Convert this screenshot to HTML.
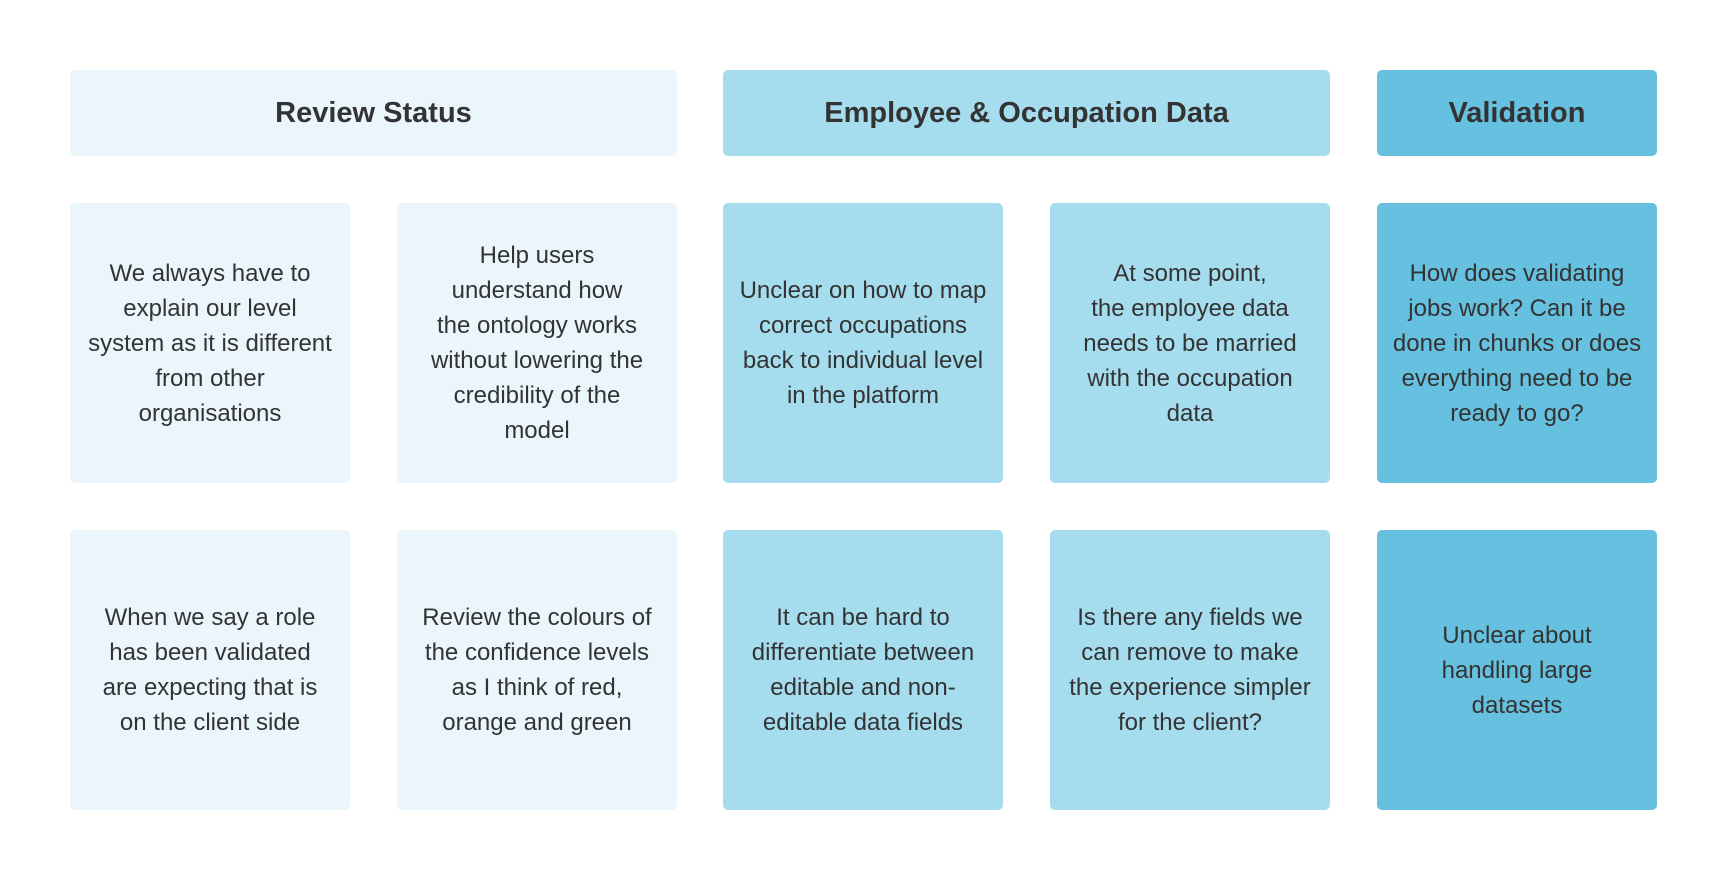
<!DOCTYPE html>
<html><head><meta charset="utf-8"><style>
html,body{margin:0;padding:0;background:#fff;}
body{width:1726px;height:878px;position:relative;overflow:hidden;font-family:"Liberation Sans",sans-serif;color:#333;}
.b{position:absolute;border-radius:5px;display:flex;align-items:center;justify-content:center;text-align:center;}
.h{top:70px;height:86px;font-weight:bold;font-size:29px;}
.c{width:280px;height:280px;font-size:24px;line-height:35px;white-space:nowrap;}
.l{background:#EAF6FB}.m{background:#A6DDEE}.d{background:#66C0DF}
.r1{top:203px}.r2{top:530px}
</style></head><body>
<div class="b h l" style="left:70px;width:607px">Review Status</div>
<div class="b h m" style="left:723px;width:607px">Employee &amp; Occupation Data</div>
<div class="b h d" style="left:1377px;width:280px">Validation</div>

<div class="b c l r1" style="left:70px">We always have to<br>explain our level<br>system as it is different<br>from other<br>organisations</div>
<div class="b c l r1" style="left:397px">Help users<br>understand how<br>the ontology works<br>without lowering the<br>credibility of the<br>model</div>
<div class="b c m r1" style="left:723px">Unclear on how to map<br>correct occupations<br>back to individual level<br>in the platform</div>
<div class="b c m r1" style="left:1050px">At some point,<br>the employee data<br>needs to be married<br>with the occupation<br>data</div>
<div class="b c d r1" style="left:1377px">How does validating<br>jobs work? Can it be<br>done in chunks or does<br>everything need to be<br>ready to go?</div>

<div class="b c l r2" style="left:70px">When we say a role<br>has been validated<br>are expecting that is<br>on the client side</div>
<div class="b c l r2" style="left:397px">Review the colours of<br>the confidence levels<br>as I think of red,<br>orange and green</div>
<div class="b c m r2" style="left:723px">It can be hard to<br>differentiate between<br>editable and non-<br>editable data fields</div>
<div class="b c m r2" style="left:1050px">Is there any fields we<br>can remove to make<br>the experience simpler<br>for the client?</div>
<div class="b c d r2" style="left:1377px">Unclear about<br>handling large<br>datasets</div>
</body></html>
